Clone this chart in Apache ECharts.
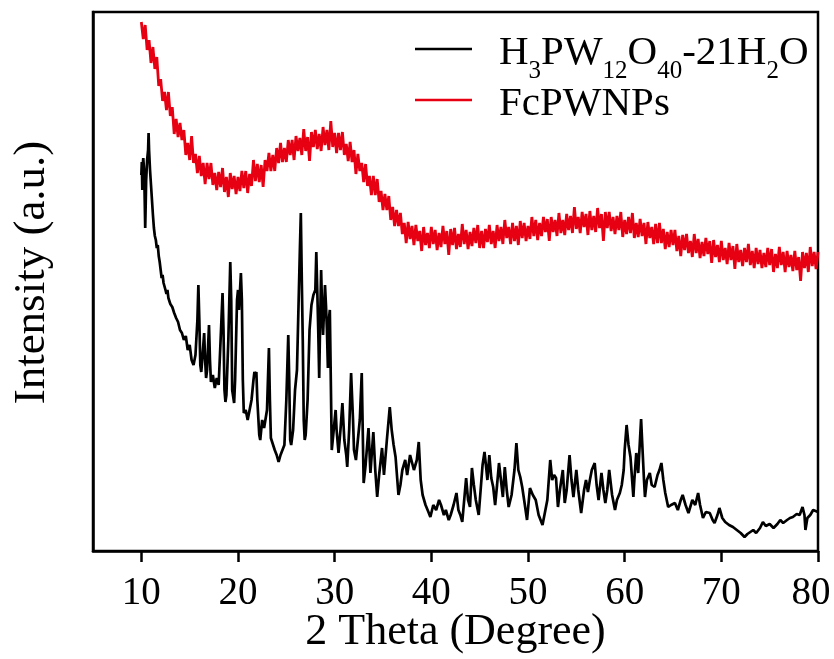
<!DOCTYPE html>
<html>
<head>
<meta charset="utf-8">
<script src="https://cdn.jsdelivr.net/npm/echarts@6/dist/echarts.min.js"></script>
<style>
html,body{margin:0;padding:0;background:#fff;}
#chart{width:834px;height:659px;}
</style>
</head>
<body>
<div id="chart"></div>
<script>
// ---- data (intensity in arbitrary units) ----
var xTicks = [10, 20, 30, 40, 50, 60, 70, 80];
var seriesNames = ['H3PW12O40-21H2O', 'FcPWNPs'];

var blackDeg = [10.0,10.05,10.1,10.15,10.2,10.3,10.35,10.4,10.45,10.5,10.6,10.7,10.75,10.8,10.9,11.0,11.1,11.2,11.3,11.4,11.5,11.6,11.7,11.8,11.9,12.0,12.1,12.2,12.3,12.4,12.5,12.6,12.7,12.8,12.9,13.0,13.2,13.4,13.6,13.8,14.0,14.2,14.4,14.6,14.8,15.0,15.2,15.4,15.6,15.8,15.9,16.0,16.1,16.2,16.3,16.5,16.6,16.7,16.8,17.0,17.1,17.2,17.4,17.6,17.8,18.0,18.2,18.4,18.5,18.6,18.7,18.8,19.0,19.2,19.3,19.4,19.6,19.7,19.9,20.0,20.1,20.3,20.4,20.5,20.6,20.8,21.0,21.2,21.4,21.6,21.7,21.8,21.9,22.0,22.2,22.3,22.5,22.7,22.9,23.0,23.2,23.3,23.4,23.6,23.8,24.0,24.2,24.4,24.6,24.8,25.0,25.2,25.3,25.4,25.5,25.7,25.9,26.1,26.3,26.4,26.5,26.6,26.7,26.8,26.9,27.0,27.2,27.4,27.6,27.8,28.0,28.1,28.2,28.3,28.4,28.5,28.6,28.7,28.8,29.0,29.1,29.2,29.3,29.4,29.5,29.6,29.7,29.8,30.0,30.1,30.2,30.4,30.6,30.8,31.0,31.2,31.3,31.5,31.7,31.9,32.0,32.2,32.4,32.6,32.8,33.0,33.2,33.5,33.7,34.0,34.2,34.4,34.6,34.9,35.1,35.4,35.7,35.9,36.1,36.3,36.6,36.8,37.0,37.3,37.5,37.8,38.0,38.2,38.5,38.7,38.9,39.1,39.4,39.7,39.9,40.2,40.5,40.8,41.0,41.3,41.5,41.8,42.0,42.3,42.6,42.8,43.0,43.2,43.4,43.6,43.8,44.0,44.2,44.4,44.6,44.9,45.1,45.3,45.5,45.7,45.8,46.0,46.2,46.4,46.6,46.8,47.0,47.2,47.4,47.6,47.8,48.0,48.3,48.6,48.8,49.0,49.2,49.4,49.6,49.9,50.2,50.5,50.8,51.1,51.5,51.8,52.0,52.3,52.5,52.7,52.9,53.1,53.3,53.6,53.8,54.0,54.3,54.5,54.7,55.0,55.2,55.5,55.8,56.0,56.2,56.4,56.6,56.9,57.1,57.3,57.6,57.8,58.0,58.2,58.4,58.7,59.0,59.2,59.5,59.7,59.9,60.0,60.2,60.4,60.6,60.9,61.0,61.2,61.4,61.5,61.7,61.8,62.0,62.1,62.3,62.6,62.8,63.1,63.4,63.6,63.8,64.0,64.2,64.5,64.8,65.2,65.5,65.8,66.0,66.3,66.6,67.0,67.3,67.6,67.8,68.1,68.4,68.8,69.1,69.3,69.6,69.8,70.1,70.4,70.8,71.2,71.6,72.0,72.4,72.7,73.0,73.3,73.6,74.0,74.3,74.6,75.0,75.4,75.8,76.1,76.4,76.8,77.1,77.4,77.8,78.1,78.4,78.6,78.7,78.9,79.2,79.5,79.7,80.0];
var blackInt = [376,389,361,386,393,379,351,323,346,371,391,401,418,401,381,366,351,336,323,315,311,303,306,295,289,281,273,276,268,266,261,257,261,253,251,247,244,238,233,229,221,218,211,215,201,206,191,186,196,231,266,231,186,179,191,218,191,173,181,226,191,169,176,163,173,166,211,258,221,161,149,156,211,289,251,161,148,171,251,261,241,278,251,171,138,141,131,133,151,171,179,176,179,151,116,111,131,123,121,141,203,151,113,111,101,96,89,96,101,106,151,216,171,111,106,121,161,181,261,301,338,271,211,131,111,116,151,221,246,256,261,299,261,221,173,231,281,241,216,266,246,221,183,231,241,171,101,111,131,141,121,98,121,148,111,96,84,121,178,131,101,91,111,131,178,68,86,123,78,119,81,54,76,103,76,111,144,121,106,94,56,66,81,91,76,96,98,81,91,109,71,56,46,39,34,46,41,51,46,36,41,31,36,46,58,41,36,29,51,73,51,44,83,66,51,36,61,86,99,81,71,96,73,64,46,66,88,71,54,84,61,44,56,81,108,81,74,64,51,31,63,56,51,36,26,41,51,91,71,76,73,44,61,81,48,61,96,71,54,81,61,38,61,71,59,71,81,88,66,51,78,61,48,61,81,56,41,51,58,66,81,101,126,106,94,54,71,98,78,96,132,111,71,54,71,78,66,64,76,81,88,71,58,44,46,48,41,51,56,46,38,51,46,58,46,33,39,38,31,28,36,43,33,29,26,24,21,18,14,17,19,21,18,23,29,25,27,23,27,31,28,31,33,34,37,36,44,36,21,33,36,41,41,39];

var redStartDeg = 10.0;
var redStepDeg = 0.2;
var redInt = [
529,512,526,501,511,488,504,482,494,465,472,450,459,441,459,435,444,417,432,414,
428,411,421,396,408,391,415,388,397,378,395,375,388,367,388,372,388,366,378,361,
379,364,383,359,374,354,378,362,375,357,374,360,380,363,380,358,377,365,391,370,
387,369,386,364,391,380,398,380,396,380,403,388,408,389,403,389,411,396,411,391,
415,400,413,396,422,400,414,390,419,404,421,402,417,400,424,406,421,401,430,404,
418,398,418,401,419,396,407,390,409,389,401,377,397,380,388,369,387,365,375,356,
375,356,372,349,360,341,357,341,355,331,344,325,341,325,338,317,328,308,329,312,
325,306,326,310,320,300,324,306,318,303,324,307,321,301,318,304,325,307,320,296,
322,306,323,302,317,304,327,307,321,302,319,305,323,308,326,303,320,303,322,309,
326,307,320,303,326,310,324,307,331,313,324,307,328,310,325,306,330,313,328,310,
325,312,334,315,331,311,328,315,334,319,332,310,334,319,331,315,338,318,331,316,
337,321,335,318,344,322,334,318,339,324,337,316,340,321,335,319,343,323,337,310,
339,323,339,320,334,317,335,321,339,314,331,317,334,318,338,313,328,314,332,315,
328,307,329,313,324,307,327,308,328,308,322,302,319,304,321,306,321,300,315,295,
316,301,317,298,310,294,317,298,312,293,309,295,313,297,310,288,311,294,306,289,
310,291,303,287,308,291,305,282,307,289,301,285,303,289,307,286,300,283,303,287,
301,283,298,284,303,286,302,279,297,283,304,286,299,279,300,284,296,280,300,281,
294,270,299,283,298,279,304,285,299,282,299];

// ---- build chart ----
var blackData = blackDeg.map(function (d, i) { return [d, blackInt[i]]; });
var redData = redInt.map(function (v, i) {
  return [+(redStartDeg + i * redStepDeg).toFixed(2), v];
});

var FONT = '"Liberation Serif", "Times New Roman", Times, serif';
var chart = echarts.init(document.getElementById('chart'), null, { renderer: 'canvas' });

var legendRich = {
  g: { width: 22, height: 42, lineHeight: 46, fontFamily: FONT, fontSize: 41, verticalAlign: 'top' },
  n: { fontFamily: FONT, fontSize: 41, color: '#000', height: 42, lineHeight: 46, padding: [6, 0, 0, 0], verticalAlign: 'top' },
  s: { fontFamily: FONT, fontSize: 25, color: '#000', height: 26, lineHeight: 46, padding: [32, 0, 0, 0], verticalAlign: 'top' }
};

chart.setOption({
  animation: false,
  backgroundColor: '#fff',
  grid: {
    left: 93, right: 16, top: 12, bottom: 108,
    outerBoundsMode: 'none',
    containLabel: false,
    show: true, borderColor: '#000', borderWidth: 2.5, backgroundColor: 'transparent'
  },
  legend: {
    orient: 'vertical',
    left: 415, top: 26,
    padding: 0,
    itemGap: -7,
    itemWidth: 57,
    itemHeight: 2.5,
    icon: 'rect',
    selectedMode: false,
    data: seriesNames,
    textStyle: { rich: legendRich },
    formatter: function (name) {
      if (name === seriesNames[0]) {
        return '{g|}{n|H}{s|3}{n|PW}{s|12}{n|O}{s|40}{n|-21H}{s|2}{n|O}';
      }
      return '{g|}{n|' + name + '}';
    }
  },
  xAxis: {
    type: 'value',
    min: 5, max: 80,
    name: '2 Theta (Degree)',
    nameLocation: 'middle',
    nameGap: 59,
    nameMoveOverlap: false,
    nameTextStyle: { fontFamily: FONT, fontSize: 44, color: '#000' },
    axisLine: { show: true, onZero: false, lineStyle: { color: '#000', width: 2.5 } },
    axisTick: { show: true, inside: false, length: 11, customValues: xTicks, lineStyle: { color: '#000', width: 2.5 } },
    axisLabel: {
      show: true, customValues: xTicks, margin: 23, fontFamily: FONT, fontSize: 39, color: '#000',
      formatter: function (v) {
        return v === xTicks[xTicks.length - 1] ? '{last|' + v + '}' : String(v);
      },
      rich: { last: { fontFamily: FONT, fontSize: 39, color: '#000', padding: [0, 14, 0, 0] } }
    },
    splitLine: { show: false }
  },
  yAxis: {
    type: 'value',
    min: 0, max: 539,
    name: 'Intensity (a.u.)',
    nameLocation: 'middle',
    nameGap: 38,
    nameMoveOverlap: false,
    nameTextStyle: { fontFamily: FONT, fontSize: 45, color: '#000', padding: [0, 0, 0, 18] },
    axisLine: { show: true, lineStyle: { color: '#000', width: 2.5 } },
    axisTick: { show: false },
    axisLabel: { show: false },
    splitLine: { show: false }
  },
  series: [
    {
      name: seriesNames[0], type: 'line', data: blackData,
      showSymbol: false, symbol: 'none',
      lineStyle: { color: '#000', width: 2.7 }, itemStyle: { color: '#000' }
    },
    {
      name: seriesNames[1], type: 'line', data: redData,
      showSymbol: false, symbol: 'none',
      lineStyle: { color: '#e60012', width: 2.8 }, itemStyle: { color: '#e60012' }
    }
  ]
});
</script>
</body>
</html>
